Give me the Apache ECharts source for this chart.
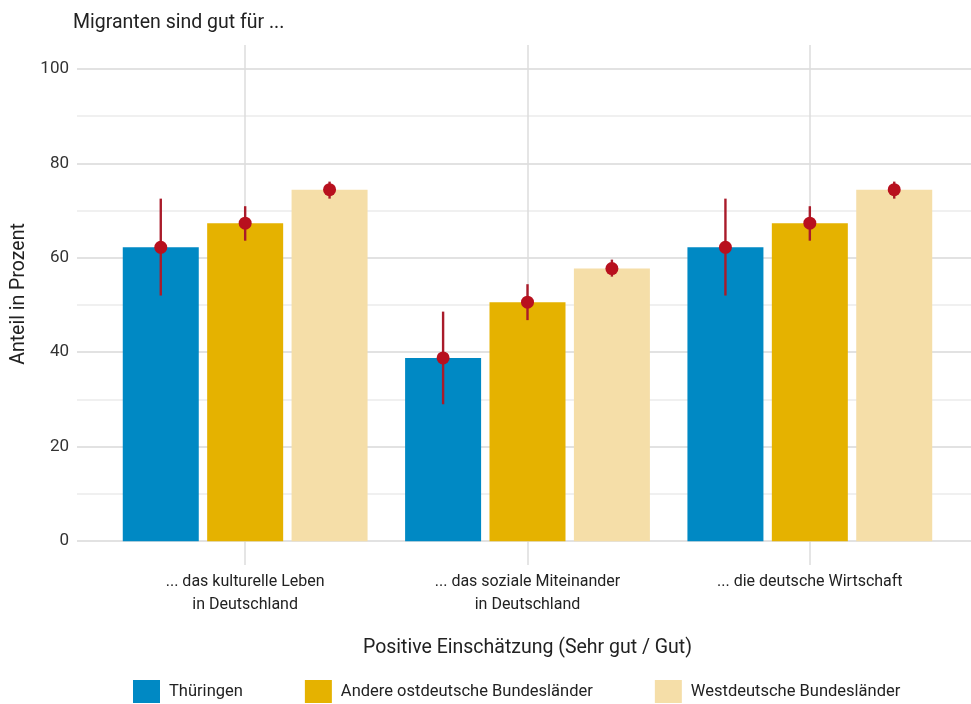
<!DOCTYPE html>
<html>
<head>
<meta charset="utf-8">
<script src="https://cdn.jsdelivr.net/npm/echarts@6/dist/echarts.min.js"></script>
<style>
  html, body { margin: 0; padding: 0; background: #fff; }
  #chart { width: 971px; height: 704px; }
</style>
</head>
<body>
<div id="chart"></div>
<script>
// Daten
const categories = [
    '... das kulturelle Leben\nin Deutschland',
    '... das soziale Miteinander\nin Deutschland',
    '... die deutsche Wirtschaft'
];
const seriesNames = ['Thüringen', 'Andere ostdeutsche Bundesländer', 'Westdeutsche Bundesländer'];
const thueringen = [62.2, 38.8, 62.2];
const thueringenLow = [52.0, 29.0, 52.0];
const thueringenHigh = [72.5, 48.6, 72.5];
const andere = [67.3, 50.6, 67.3];
const andereLow = [63.6, 46.8, 63.6];
const andereHigh = [70.9, 54.4, 70.9];
const west = [74.4, 57.7, 74.4];
const westLow = [72.5, 56.0, 72.5];
const westHigh = [76.1, 59.6, 76.1];
const yTicks = [0, 20, 40, 60, 80, 100];

const colors = ['#0089c4', '#e5b200', '#f5dea8'];
const FONT = 'Roboto, "Noto Sans", sans-serif';
const BAR_W = 76;
const BAR_GAP = 8.4;

// Fehlerbalken: [Kategorie, Serie, unten, oben, Wert]
const errorData = [];
[[thueringen, thueringenLow, thueringenHigh],
 [andere, andereLow, andereHigh],
 [west, westLow, westHigh]].forEach(([vals, lows, highs], s) => {
    vals.forEach((v, i) => errorData.push([i, s, lows[i], highs[i], v]));
});

const chart = echarts.init(document.getElementById('chart'));

chart.setOption({
    animation: false,
    textStyle: { fontFamily: FONT },
    title: {
        text: 'Migranten sind gut für ...',
        left: 73, top: 13, padding: 0,
        textStyle: { fontSize: 19.5, fontWeight: 'normal', color: '#222', fontFamily: FONT }
    },
    legend: {
        data: seriesNames,
        left: 133, top: 680, padding: 0,
        itemWidth: 27, itemHeight: 23, itemGap: 62,
        icon: 'rect',
        textStyle: { fontSize: 16.5, color: '#222', padding: [0, 0, 0, 4], fontFamily: FONT }
    },
    grid: [
        // Hintergrund mit horizontalen Linien
        { left: 77, right: 0, top: 69, bottom: 163 },
        // Balken
        { left: 104, right: 20, top: 45, bottom: 139 }
    ],
    xAxis: [
        { gridIndex: 0, type: 'value', show: false, min: 0, max: 1 },
        {
            gridIndex: 1, type: 'category', data: categories,
            axisLine: { show: false, onZero: false },
            axisTick: { show: false },
            splitLine: { show: true, alignWithLabel: true, lineStyle: { color: '#dcdcdc', width: 1.5 } },
            axisLabel: { fontSize: 16, color: '#222', lineHeight: 23, margin: 5, fontFamily: FONT },
            name: 'Positive Einschätzung (Sehr gut / Gut)',
            nameLocation: 'middle', nameGap: 73,
            nameTextStyle: { fontSize: 19.5, color: '#222', fontFamily: FONT }
        }
    ],
    yAxis: [
        {
            gridIndex: 0, type: 'value', min: 0, max: 100, interval: 10,
            axisLine: { show: false }, axisTick: { show: false },
            splitLine: { lineStyle: { color: ['#d8d8d8', '#ebebeb'], width: 1.5 } },
            axisLabel: {
                fontSize: 17, color: '#333', margin: 8, fontFamily: FONT,
                formatter: v => yTicks.includes(v) ? String(v) : ''
            },
            name: 'Anteil in Prozent',
            nameLocation: 'middle', nameGap: 46,
            nameTextStyle: { fontSize: 19.5, color: '#222', fontFamily: FONT, padding: [0, 0, 0, 22] }
        },
        { gridIndex: 1, type: 'value', min: -5, max: 105, show: false, splitLine: { show: false } }
    ],
    series: [
        { name: seriesNames[0], type: 'bar', xAxisIndex: 1, yAxisIndex: 1, data: thueringen,
          barWidth: BAR_W, barGap: (BAR_GAP / BAR_W * 100) + '%', itemStyle: { color: colors[0] }, z: 2 },
        { name: seriesNames[1], type: 'bar', xAxisIndex: 1, yAxisIndex: 1, data: andere,
          barWidth: BAR_W, barGap: (BAR_GAP / BAR_W * 100) + '%', itemStyle: { color: colors[1] }, z: 2 },
        { name: seriesNames[2], type: 'bar', xAxisIndex: 1, yAxisIndex: 1, data: west,
          barWidth: BAR_W, barGap: (BAR_GAP / BAR_W * 100) + '%', itemStyle: { color: colors[2] }, z: 2 },
        {
            type: 'custom', xAxisIndex: 1, yAxisIndex: 1, z: 5,
            data: errorData,
            renderItem: function (params, api) {
                const off = (api.value(1) - 1) * (BAR_W + BAR_GAP);
                const lo = api.coord([api.value(0), api.value(2)]);
                const hi = api.coord([api.value(0), api.value(3)]);
                const pt = api.coord([api.value(0), api.value(4)]);
                return {
                    type: 'group',
                    children: [
                        { type: 'line', shape: { x1: lo[0] + off, y1: lo[1], x2: hi[0] + off, y2: hi[1] },
                          style: { stroke: '#a91b2a', lineWidth: 2.4 } },
                        { type: 'circle', shape: { cx: pt[0] + off, cy: pt[1], r: 6.5 },
                          style: { fill: '#b8101e' } }
                    ]
                };
            }
        }
    ]
});
</script>
</body>
</html>
